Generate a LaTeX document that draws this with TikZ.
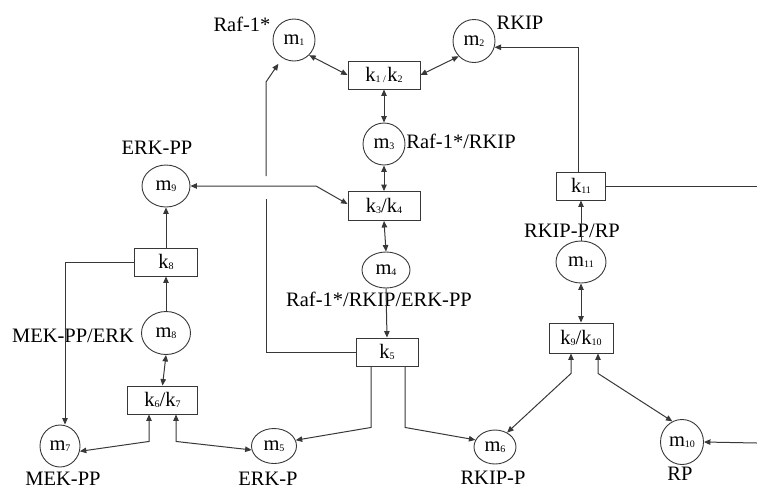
\documentclass[tikz,border=0pt]{standalone}
\usepackage{fontspec}
\setmainfont{Liberation Serif}
\usetikzlibrary{arrows.meta,shapes.geometric}
\definecolor{ln}{HTML}{383838}
\newcommand\ix[1]{\raisebox{-0.6pt}{\fontsize{10}{10}\selectfont #1}}
\begin{document}
\begin{tikzpicture}[x=1pt,y=-1pt,
  font=\fontsize{20.5}{24}\selectfont,
  place/.style={ellipse, draw=ln, line width=0.9pt, inner sep=0pt, minimum width=42pt, minimum height=42pt},
  trans/.style={rectangle, draw=ln, line width=0.9pt, inner sep=0pt, minimum height=28pt},
  conn/.style={draw=ln, line width=1pt},
  arr/.style={conn, -{Triangle[length=6.5pt,width=5.5pt]}},
  darr/.style={conn, {Triangle[length=6.5pt,width=5.5pt]}-{Triangle[length=6.5pt,width=5.5pt]}},
  lbl/.style={inner sep=0pt}]
\path[use as bounding box] (0,0) rectangle (757,491);

% places
\node[place] (m1) at (294,40) {m\ix{1}};
\node[place, minimum height=43pt] (m2) at (474,41) {m\ix{2}};
\node[place] (m3) at (384,144) {m\ix{3}};
\node[place, minimum width=48pt, minimum height=36pt] (m4) at (386,270) {m\ix{4}};
\node[place, minimum width=45pt, minimum height=35pt] (m5) at (274,446) {m\ix{5}};
\node[place, minimum width=42pt, minimum height=34pt] (m6) at (495,447) {m\ix{6}};
\node[place, minimum width=40pt] (m7) at (60,446) {m\ix{7}};
\node[place, minimum width=49pt, minimum height=43pt] (m8) at (166,333) {m\ix{8}};
\node[place, minimum width=48pt] (m9) at (166,186) {m\ix{9}};
\node[place, minimum width=43pt, minimum height=45pt] (m10) at (682,442) {m\ix{10}};
\node[place, minimum width=50pt] (m11) at (581,262) {m\ix{11}};

% transitions
\node[trans, minimum width=72pt] (k12) at (384,75) {k\ix{1 /\,}k\ix{2}};
\node[trans, minimum width=72pt, minimum height=29pt] (k34) at (384,206) {k\ix{3}/k\ix{4}};
\node[trans, minimum width=62pt] (k5) at (387,352) {k\ix{5}};
\node[trans, minimum width=70pt] (k67) at (162.5,400) {k\ix{6}/k\ix{7}};
\node[trans, minimum width=63pt] (k8) at (166,262) {k\ix{8}};
\node[trans, minimum width=64pt, minimum height=30pt] (k910) at (581,338) {k\ix{9}/k\ix{10}};
\node[trans, minimum width=49pt] (k11) at (581,186) {k\ix{11}};

% labels
\node[lbl] (l1) at (242,24) {Raf-1*};
\node[lbl] (l2) at (520,23) {RKIP};
\node[lbl] (l3) at (461,141) {Raf-1*/RKIP};
\node[lbl] (l9) at (157,148) {ERK-PP};
\node[lbl] (l4) at (379,299) {Raf-1*/RKIP/ERK-PP};
\node[lbl] (l8) at (73,336) {MEK-PP/ERK};
\node[lbl] (l11) at (572,231) {RKIP-P/RP};
\node[lbl] (l7) at (63,479) {MEK-PP};
\node[lbl] (l5) at (268,479) {ERK-P};
\node[lbl] (l6) at (493,478) {RKIP-P};
\node[lbl] (l10) at (680,474) {RP};

% free ends and bends
\coordinate (e1) at (757,186);
\coordinate (e2) at (757,443);
\coordinate (g1) at (266,199);
\coordinate (g2) at (266,176);
\coordinate (b1) at (266,82);
\coordinate (b2) at (316,186);

% connectors
\draw[darr] (m1.-45) -- (k12.west);
\draw[darr] (k12.east) -- (m2.-135);
\draw[darr] (k12.south) -- (m3.north);
\draw[darr] (m3.south) -- (k34.north);
\draw[darr] (k34.south) -- (m4.north);
\draw[arr] (m4.south) -- (k5.north);
\draw[darr] (m9.east) -- (b2) -- ([yshift=2pt]k34.west);
\draw[arr] (k8.north) -- (m9.south);
\draw[arr] (m8.north) -- (k8.south);
\draw[darr] (m8.south) -- (k67.north);
\draw[arr] (k8.west) -| ([xshift=5pt]m7.north);
\draw[darr] ([xshift=-13.5pt]k67.south) -- ++(0,27) -- (m7.-15);
\draw[darr] ([xshift=13.5pt]k67.south) -- ++(0,27) -- (m5.-170);
\draw[arr] ([xshift=-16pt]k5.south) -- ++(0,61) -- (m5.15);
\draw[arr] ([xshift=18pt]k5.south) -- ++(0,61) -- (m6.160);
\draw[conn] (k5.west) -| (g1);
\draw[arr, shorten >=7pt] (g2) -- (b1) -- (m1.-123);
\draw[darr] ([xshift=-10pt]k910.south) -- ++(0,20) -- (m6.50);
\draw[darr] ([xshift=17pt]k910.south) -- ++(0,20) -- (m10.115);
\draw[darr] (m11.south) -- (k910.north);
\draw[arr] (m11.north) -- (k11.south);
\draw[arr] ([xshift=-3pt]k11.north) |- (m2.-17);
\draw[conn] (k11.east) -- (e1);
\draw[arr] (e2) -- (m10.east);
\end{tikzpicture}
\end{document}
